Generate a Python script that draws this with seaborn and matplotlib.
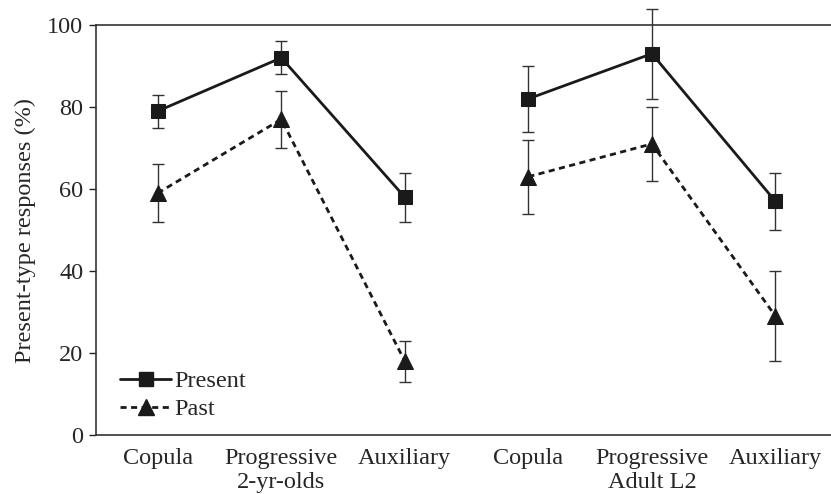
import matplotlib
matplotlib.use("Agg")
import matplotlib.pyplot as plt
from matplotlib.lines import Line2D
import seaborn as sns
import pandas as pd
import numpy as np

categories = ["Copula", "Progressive\n2-yr-olds", "Auxiliary",
              "Copula", "Progressive\nAdult L2", "Auxiliary"]
groups = ["2-yr-olds"] * 3 + ["Adult L2"] * 3
present_vals = [79, 92, 58, 82, 93, 57]
present_err = [4, 4, 6, 8, 11, 7]
past_vals = [59, 77, 18, 63, 71, 29]
past_err = [7, 7, 5, 9, 9, 11]
yticks = [0, 20, 40, 60, 80, 100]

pos = list(range(len(categories)))
df = pd.concat([
    pd.DataFrame({"pos": pos, "value": present_vals, "err": present_err,
                  "series": "Present", "group": groups}),
    pd.DataFrame({"pos": pos, "value": past_vals, "err": past_err,
                  "series": "Past", "group": groups}),
], ignore_index=True)

sns.set_theme(style="white")
plt.rcParams["font.family"] = ["Liberation Serif", "DejaVu Serif"]
FS = 17.5

fig = plt.figure(figsize=(8.31, 4.94), dpi=100)
ax = fig.add_axes([0.1155, 0.1194, 0.8845, 0.83])

for s in ["Present", "Past"]:
    d = df[df.series == s]
    _, caps, bars = ax.errorbar(d["pos"], d["value"], yerr=d["err"], fmt="none",
                                ecolor="#333333", elinewidth=1.0, capsize=4,
                                capthick=1.0, zorder=1)
    for c in caps:
        c.set_clip_on(False)
    for b in bars:
        b.set_clip_on(False)

styles = {"Present": dict(marker="s", ls="-", ms=10),
          "Past": dict(marker="^", ls=(0, (2.2, 1.6)), ms=11)}
for s in ["Present", "Past"]:
    for g in ["2-yr-olds", "Adult L2"]:
        d = df[(df.series == s) & (df.group == g)]
        sns.lineplot(data=d, x="pos", y="value", ax=ax, color="#1a1a1a",
                     marker=styles[s]["marker"], markersize=styles[s]["ms"],
                     linestyle=styles[s]["ls"], linewidth=2.0,
                     markeredgecolor="#1a1a1a", estimator=None, legend=False,
                     zorder=3)

ax.set_xlim(-0.5, 5.45)
ax.set_ylim(0, 100)
ax.set_yticks(yticks)
ax.set_xticks(pos)
ax.set_xticklabels(categories, fontsize=FS, linespacing=1.2)
ax.tick_params(axis="y", labelsize=FS, length=5, width=1, color="#222222",
               left=True, pad=4)
ax.tick_params(axis="x", length=0, pad=9)
ax.set_xlabel("")
ax.set_ylabel("Present-type responses (%)", fontsize=FS, labelpad=8)

for sp in ["left", "bottom", "top"]:
    ax.spines[sp].set_visible(True)
    ax.spines[sp].set_color("#333333")
    ax.spines[sp].set_linewidth(1.2)
ax.spines["right"].set_visible(False)

handles = [
    Line2D([], [], color="#1a1a1a", marker="s", ms=10, lw=2.0, ls="-"),
    Line2D([], [], color="#1a1a1a", marker="^", ms=11, lw=2.0, ls=(0, (2.2, 1.6))),
]
leg = ax.legend(handles, ["Present", "Past"], loc="lower left",
                bbox_to_anchor=(0.02, 0.012), frameon=False, fontsize=FS,
                handlelength=2.1, handletextpad=0.1, labelspacing=0.25,
                borderaxespad=0)

fig.savefig("out.png", dpi=100)
